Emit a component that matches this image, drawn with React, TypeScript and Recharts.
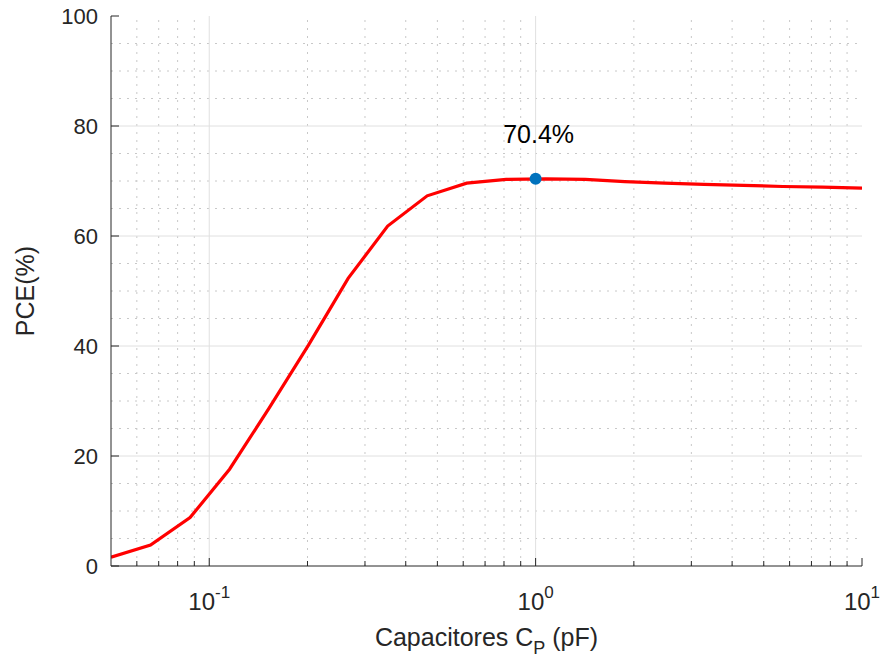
import React from 'react';
import { LineChart, Line, XAxis, YAxis, ReferenceLine, ReferenceDot, Label } from 'recharts';

// capacitance sweep (pF) and resulting efficiency (%)
const capacitance = [
  0.05, 0.06608, 0.08733, 0.11541, 0.15253, 0.20158, 0.2664, 0.35207, 0.46529, 0.61492,
  0.81266, 1.0743, 1.4197, 1.8762, 2.4796, 3.277, 4.3308, 5.7234, 7.564, 10,
];
const pce = [
  1.6, 3.8, 8.8, 17.6, 28.7, 40.2, 52.3, 61.8, 67.3, 69.6,
  70.3, 70.4, 70.3, 69.9, 69.6, 69.4, 69.2, 69.0, 68.9, 68.7,
];

const decadeTicks = [0.1, 1, 10];
const decadeLabels = ['-1', '0', '1'];
const minorX = [0.06, 0.07, 0.08, 0.09, 0.2, 0.3, 0.4, 0.5, 0.6, 0.7, 0.8, 0.9, 2, 3, 4, 5, 6, 7, 8, 9];
const yTicks = [0, 20, 40, 60, 80, 100];
const minorY = [5, 10, 15, 25, 30, 35, 45, 50, 55, 65, 70, 75, 85, 90, 95];

const peakX = 1;
const peakY = 70.4;
const peakLabel = '70.4%';

const data = capacitance.map((c, i) => ({ c, pce: pce[i] }));
const allX = [...minorX, ...decadeTicks].sort((a, b) => a - b);

const FONT = '"Liberation Sans", Arial, Helvetica, sans-serif';
const AXIS = '#262626';

const BottomTick = (props: any) => {
  const { x, y, payload } = props;
  const idx = decadeTicks.indexOf(payload.value);
  const major = idx >= 0;
  return (
    <g>
      <line x1={x} y1={y} x2={x} y2={y - (major ? 8 : 5)} stroke={AXIS} strokeWidth={1} />
      {major && (
        <text x={x} y={y + 44} textAnchor="middle" fill={AXIS} fontSize={24} fontFamily={FONT}>
          <tspan>10</tspan>
          <tspan dy={-12} fontSize={17}>{decadeLabels[idx]}</tspan>
        </text>
      )}
    </g>
  );
};

const TopTick = (props: any) => {
  const { x, y, payload } = props;
  const major = decadeTicks.includes(payload.value);
  return <line x1={x} y1={y} x2={x} y2={y + (major ? 8 : 5)} stroke={AXIS} strokeWidth={1} />;
};

const LeftTick = (props: any) => {
  const { x, y, payload } = props;
  return (
    <g>
      <line x1={x} y1={y} x2={x + 8} y2={y} stroke={AXIS} strokeWidth={1} />
      <text x={x - 13} y={y} dy="0.36em" textAnchor="end" fill={AXIS} fontSize={22} fontFamily={FONT}>
        {payload.value}
      </text>
    </g>
  );
};

const RightTick = (props: any) => {
  const { x, y } = props;
  return <line x1={x} y1={y} x2={x - 8} y2={y} stroke={AXIS} strokeWidth={1} />;
};

const XTitle = (props: any) => {
  const { x, y, width } = props.viewBox;
  return (
    <text x={x + width / 2} y={y + 80} textAnchor="middle" fill={AXIS} fontSize={25} fontFamily={FONT}>
      Capacitores C
      <tspan dy={8} fontSize={18}>P</tspan>
      <tspan dy={-8}>{'\u00a0(pF)'}</tspan>
    </text>
  );
};

const YTitle = (props: any) => {
  const { x, y, height } = props.viewBox;
  const cx = x + 34;
  const cy = y + height / 2;
  return (
    <text
      x={cx}
      y={cy}
      transform={`rotate(-90 ${cx} ${cy})`}
      textAnchor="middle"
      fill={AXIS}
      fontSize={25}
      fontFamily={FONT}
    >
      PCE(%)
    </text>
  );
};

export default function App() {
  return (
    <div style={{ position: 'absolute', left: 0, top: 0, background: '#fff' }}>
      <LineChart width={881} height={664} data={data} margin={{ top: 16, right: 19, bottom: 0, left: 0 }}>
        <XAxis
          xAxisId="bottom"
          dataKey="c"
          type="number"
          scale="log"
          domain={[0.05, 10]}
          allowDataOverflow
          ticks={allX}
          interval={0}
          tickSize={0}
          tickMargin={0}
          tick={<BottomTick />}
          tickLine={false}
          axisLine={{ stroke: AXIS, strokeWidth: 1 }}
          height={98}
        >
          <Label content={<XTitle />} />
        </XAxis>
        <XAxis
          xAxisId="top"
          orientation="top"
          dataKey="c"
          type="number"
          scale="log"
          domain={[0.05, 10]}
          allowDataOverflow
          ticks={allX}
          interval={0}
          tickSize={0}
          tickMargin={0}
          tick={<TopTick />}
          tickLine={false}
          axisLine={{ stroke: AXIS, strokeWidth: 1 }}
          height={0}
        />
        <YAxis
          yAxisId="left"
          type="number"
          domain={[0, 100]}
          ticks={yTicks}
          interval={0}
          tickSize={0}
          tickMargin={0}
          tick={<LeftTick />}
          tickLine={false}
          axisLine={{ stroke: AXIS, strokeWidth: 1 }}
          width={111}
        >
          <Label content={<YTitle />} />
        </YAxis>
        <YAxis
          yAxisId="right"
          orientation="right"
          type="number"
          domain={[0, 100]}
          ticks={yTicks}
          interval={0}
          tickSize={0}
          tickMargin={0}
          tick={<RightTick />}
          tickLine={false}
          axisLine={{ stroke: AXIS, strokeWidth: 1 }}
          width={0}
        />

        {minorY.map((v) => (
          <ReferenceLine key={'my' + v} y={v} xAxisId="bottom" yAxisId="left" stroke="#c8c8c8" strokeDasharray="2 6" strokeWidth={1} />
        ))}
        {minorX.map((v) => (
          <ReferenceLine key={'mx' + v} x={v} xAxisId="bottom" yAxisId="left" stroke="#c8c8c8" strokeDasharray="2 6" strokeWidth={1} />
        ))}
        {yTicks.slice(1, -1).map((v) => (
          <ReferenceLine key={'gy' + v} y={v} xAxisId="bottom" yAxisId="left" stroke="#e0e0e0" strokeWidth={1} />
        ))}
        {decadeTicks.slice(0, -1).map((v) => (
          <ReferenceLine key={'gx' + v} x={v} xAxisId="bottom" yAxisId="left" stroke="#e0e0e0" strokeWidth={1} />
        ))}

        <Line
          xAxisId="bottom"
          yAxisId="left"
          type="linear"
          dataKey="pce"
          stroke="#ff0000"
          strokeWidth={3.2}
          dot={false}
          activeDot={false}
          isAnimationActive={false}
        />
        <ReferenceDot
          xAxisId="bottom"
          yAxisId="left"
          x={peakX}
          y={peakY}
          r={6}
          fill="#0072BD"
          stroke="none"
          label={{ value: peakLabel, position: 'top', offset: 30, fill: '#000', fontSize: 25, fontFamily: FONT, dx: 3 }}
        />
      </LineChart>
    </div>
  );
}
